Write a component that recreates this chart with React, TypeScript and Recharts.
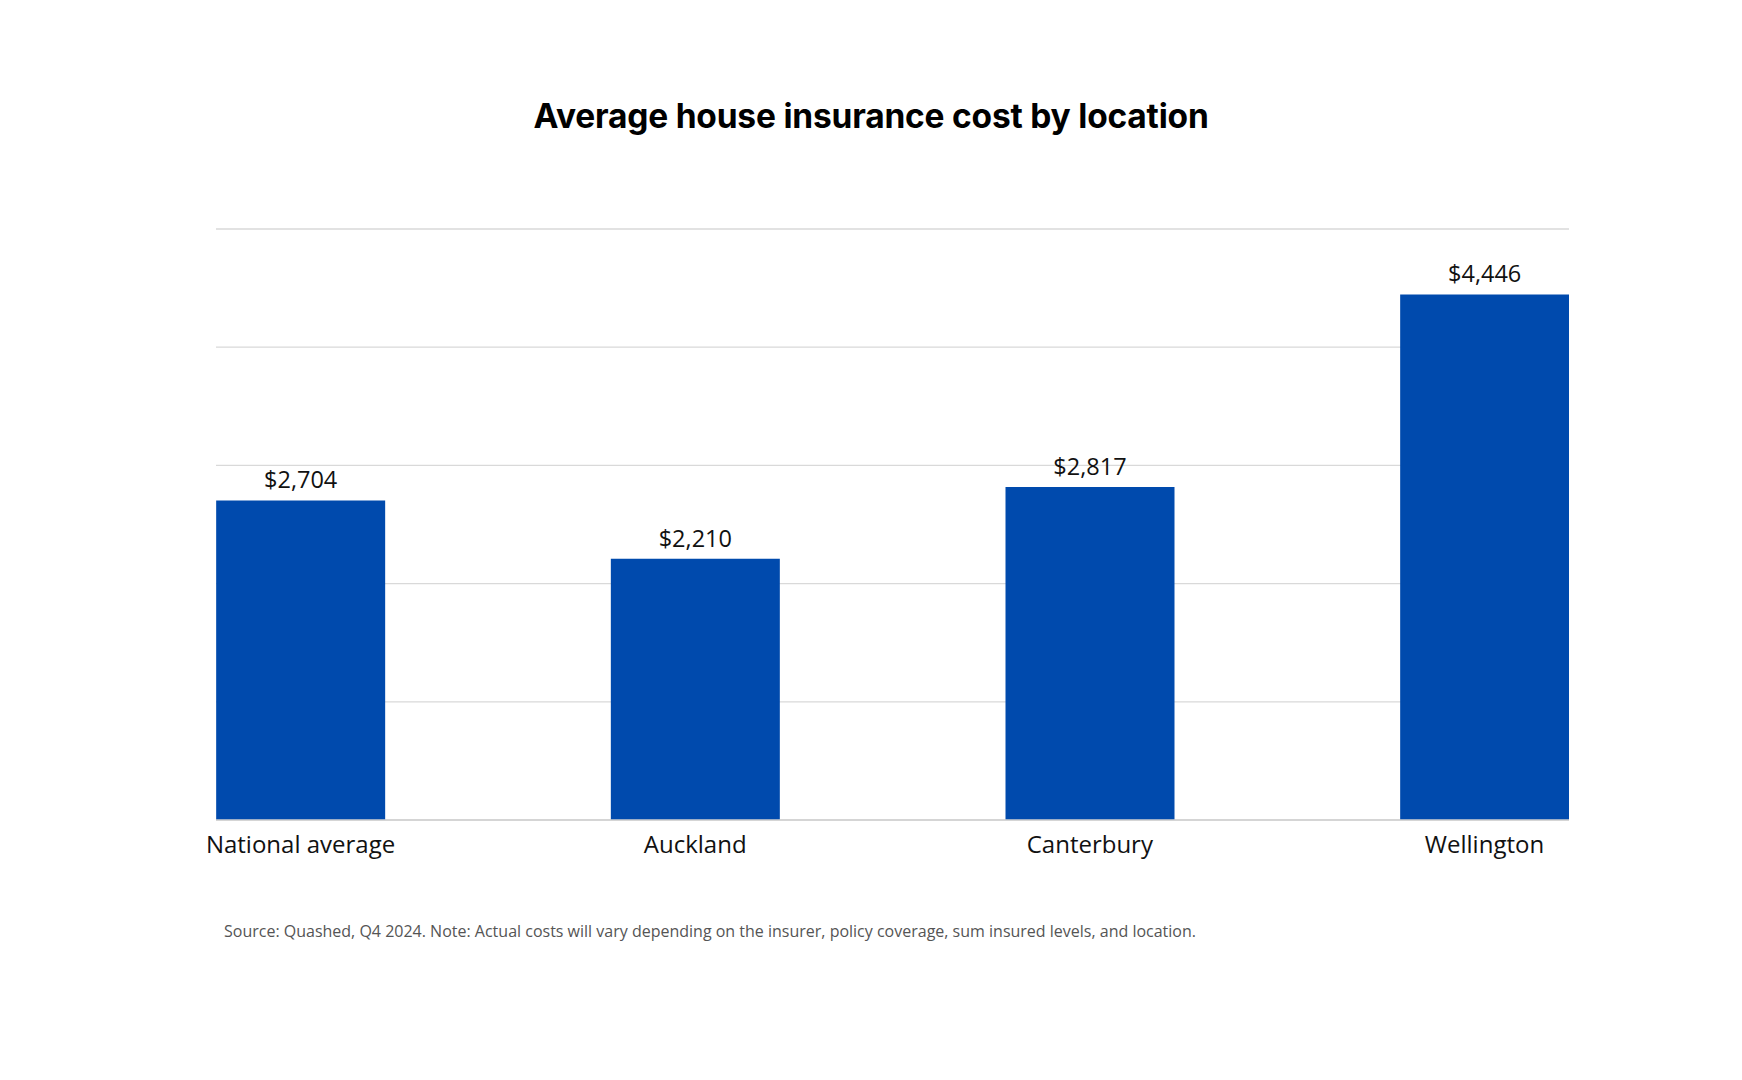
import { BarChart, Bar, XAxis, YAxis, CartesianGrid, LabelList } from 'recharts';

const locations = ['National average', 'Auckland', 'Canterbury', 'Wellington'];
const avgCost = [2704, 2210, 2817, 4446];
const yTicks = [0, 1000, 2000, 3000, 4000, 5000];

const chartData = locations.map((name, i) => ({ idx: i, name, cost: avgCost[i] }));

const BLUE = '#004AAD';
const SANS = '"Open Sans", "Noto Sans", sans-serif';

// chart box starts at x=207 so the first tick label gets clipped like the original
const CHART_LEFT = 207;
const CHART_W = 1742 - CHART_LEFT;

export default function App() {
  return (
    <div style={{ position: 'absolute', left: 0, top: 0, width: 1742, height: 1080, background: '#fff' }}>
      <div
        style={{
          position: 'absolute',
          top: 96,
          left: 0,
          width: 1742,
          textAlign: 'center',
          fontFamily: 'Inter, Lato, sans-serif',
          fontWeight: 700,
          fontSize: 33.5,
          color: '#000',
          letterSpacing: '-0.2px',
        }}
      >
        Average house insurance cost by location
      </div>

      <div style={{ position: 'absolute', left: CHART_LEFT, top: 0, width: CHART_W, height: 1080, overflow: 'hidden' }}>
        <BarChart
          width={CHART_W}
          height={1080}
          data={chartData}
          margin={{ top: 229, right: 1742 - 1569, bottom: 220, left: 216 - CHART_LEFT }}
        >
          <CartesianGrid vertical={false} stroke="#d9d9d9" strokeWidth={1.3} />
          <XAxis
            dataKey="idx"
            type="number"
            domain={[-0.2141, 3.2141]}
            ticks={[0, 1, 2, 3]}
            tickFormatter={(v: number) => locations[v] ?? ''}
            height={40}
            axisLine={{ stroke: '#d0d0d0', strokeWidth: 1.3 }}
            tickLine={false}
            tickSize={6}
            tickMargin={9.5}
            tick={{ fill: '#111', fontSize: 24, fontFamily: SANS }}
            interval={0}
            allowDataOverflow
          />
          <YAxis hide domain={[0, 5000]} ticks={yTicks} />
          <Bar dataKey="cost" fill={BLUE} barSize={169} isAnimationActive={false}>
            <LabelList
              dataKey="cost"
              position="top"
              offset={12}
              formatter={(v: number) => `$${v.toLocaleString('en-US')}`}
              style={{ fill: '#111', fontSize: 23.5, fontFamily: SANS }}
            />
          </Bar>
        </BarChart>
      </div>

      <div
        style={{
          position: 'absolute',
          top: 920,
          left: 224,
          fontFamily: SANS,
          fontSize: 16,
          color: '#555',
          whiteSpace: 'nowrap',
        }}
      >
        Source: Quashed, Q4 2024. Note: Actual costs will vary depending on the insurer, policy coverage, sum insured
        levels, and location.
      </div>
    </div>
  );
}
